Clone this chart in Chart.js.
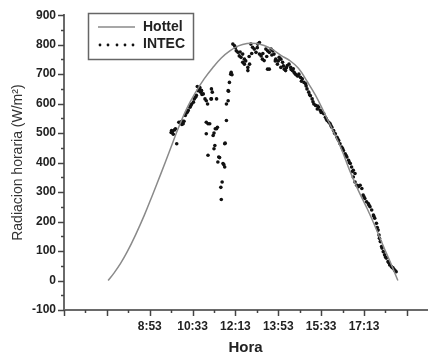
<!DOCTYPE html>
<html>
<head>
<meta charset="utf-8">
<script src="https://cdn.jsdelivr.net/npm/chart.js@4"></script>
<style>
  body { margin: 0; background: #fff; }
  canvas { display: block; }
</style>
</head>
<body>
<canvas id="radChart" width="431" height="358"></canvas>
<script>
// time in minutes after midnight
const hottelTimes = [436, 450, 465, 480, 500, 520, 540, 560, 580, 600, 620, 640, 660, 680, 700, 720, 740, 760, 780, 800,
  820, 840, 860, 880, 900, 920, 940, 960, 980, 1000, 1020, 1040, 1060, 1080, 1095, 1112];
const hottelValues = [0, 26, 58, 96, 155, 220, 292, 366, 442, 518, 585, 638, 684, 722, 755, 779, 796, 804, 804, 797,
  783, 763, 746, 720, 676, 628, 570, 510, 447, 372, 305, 245, 180, 110, 60, 0];

// INTEC measurements, main trail
const intecTimes = [583, 584, 588, 591, 596, 601, 604, 608, 609, 611, 619, 623, 627, 631, 635, 637, 640, 644, 646, 648,
  652, 654, 655, 658, 662, 665, 665, 665, 668, 669, 669, 673, 676, 677, 677, 679, 681, 683, 683, 685,
  686, 689, 689, 691, 692, 694, 696, 699, 700, 702, 704, 706, 708, 708, 709, 712, 712, 716, 716, 717,
  719, 722, 723, 725, 727, 731, 735, 739, 742, 746, 750, 750, 754, 754, 762, 762, 766, 769, 773, 777,
  781, 785, 789, 789, 793, 796, 800, 804, 808, 808, 812, 812, 816, 820, 823, 827, 831, 835, 839, 839,
  843, 847, 850, 854, 858, 862, 866, 870, 873, 877, 881, 885, 889, 893, 897, 900, 904, 908, 912, 916,
  920, 924, 927, 931, 935, 939, 943, 947, 951, 954, 958, 962, 966, 970, 974, 977, 981, 985, 989, 993,
  997, 1001, 1004, 1008, 1008, 1012, 1012, 1016, 1020, 1024, 1028, 1031, 1035, 1039, 1043, 1047, 1051, 1055, 1058, 1062,
  1066, 1068, 1069, 1071, 1074, 1078, 1081, 1085, 1089, 1093, 1097, 1101, 1104, 1108,
  // second pass, thickening the band
  586, 593, 606, 613, 616, 621, 629, 642, 650, 653,
  733, 744, 757, 765, 771, 784, 797, 806, 818, 826, 833, 845, 852, 863, 868, 879, 887, 898, 906, 914,
  925, 933, 945, 956, 964, 972, 983, 991, 999, 1006, 1018, 1033, 1045, 1056, 1064, 1075, 1083, 1091, 1099, 1106];
const intecValues = [502, 509, 496, 511, 464, 537, 534, 529, 541, 532, 568, 577, 588, 599, 605, 616, 622, 658, 644, 650,
  639, 644, 631, 633, 616, 610, 537, 498, 599, 532, 425, 532, 616, 616, 650, 639, 492, 500, 447, 458,
  515, 616, 515, 520, 402, 419, 417, 316, 275, 334, 397, 393, 385, 464, 466, 543, 599, 610, 644, 642,
  672, 700, 706, 698, 802, 796, 779, 774, 762, 757, 768, 740, 751, 734, 723, 712, 734, 802, 791, 785,
  774, 802, 807, 768, 762, 751, 746, 785, 779, 717, 774, 717, 785, 779, 768, 751, 734, 757, 751, 723,
  740, 717, 712, 729, 734, 723, 712, 706, 700, 695, 700, 689, 684, 672, 667, 650, 639, 627, 616, 599,
  594, 582, 588, 577, 571, 566, 554, 543, 537, 532, 520, 509, 498, 486, 475, 464, 453, 441, 430, 419,
  408, 397, 385, 374, 351, 363, 334, 323, 318, 323, 312, 290, 278, 267, 261, 250, 239, 222, 211, 194,
  171, 154, 143, 132, 115, 98, 87, 76, 64, 53, 47, 42, 36, 30,
  505, 515, 538, 540, 560, 572, 594, 628, 655, 645,
  790, 775, 745, 760, 770, 790, 770, 760, 765, 745, 745, 728, 722, 716, 718, 694, 676, 660, 630, 606,
  592, 570, 548, 525, 500, 480, 448, 425, 400, 370, 322, 284, 255, 218, 180, 110, 80, 60, 44, 33];

const xTickLabels = ['8:53', '10:33', '12:13', '13:53', '15:33', '17:13'];
const xMin = 333, xMax = 1180;
const yMin = -100, yMax = 900;

function toClock(m) {
  const h = Math.floor(m / 60);
  const mm = Math.round(m - h * 60);
  return h + ':' + (mm < 10 ? '0' : '') + mm;
}

const FONT = '"Liberation Sans", Arial, sans-serif';

// outward major/minor ticks like the original plot
const tickPlugin = {
  id: 'ticks',
  afterDraw(chart) {
    const ctx = chart.ctx;
    const xs = chart.scales.x, ys = chart.scales.y;
    ctx.save();
    ctx.strokeStyle = '#444';
    ctx.lineWidth = 1.5;
    for (let v = xMin; v <= xMax; v += 50) {
      const px = Math.round(xs.getPixelForValue(v)) + 0.5;
      const len = (v - xMin) % 100 === 0 ? 6 : 3;
      ctx.beginPath();
      ctx.moveTo(px, ys.bottom);
      ctx.lineTo(px, ys.bottom + len);
      ctx.stroke();
    }
    for (let v = yMin; v <= yMax; v += 50) {
      const py = Math.round(ys.getPixelForValue(v)) + 0.5;
      const len = v % 100 === 0 ? 6 : 3;
      ctx.beginPath();
      ctx.moveTo(xs.left, py);
      ctx.lineTo(xs.left - len, py);
      ctx.stroke();
    }
    ctx.restore();
  }
};

// boxed legend inside the plot, top left
const boxLegend = {
  id: 'boxLegend',
  afterDraw(chart) {
    const ctx = chart.ctx;
    const ds = chart.data.datasets;
    const x0 = 88.5, y0 = 13.5, w = 105, h = 46;
    ctx.save();
    ctx.fillStyle = '#fff';
    ctx.fillRect(x0, y0, w, h);
    ctx.strokeStyle = '#666';
    ctx.lineWidth = 1.5;
    ctx.strokeRect(x0, y0, w, h);
    // line sample
    ctx.strokeStyle = ds[0].borderColor;
    ctx.lineWidth = 1.5;
    ctx.beginPath();
    ctx.moveTo(98, 27);
    ctx.lineTo(135, 27);
    ctx.stroke();
    // dotted sample
    ctx.fillStyle = '#111';
    [100, 108, 117, 125, 133].forEach(function (px) {
      ctx.beginPath();
      ctx.arc(px, 45, 1.4, 0, Math.PI * 2);
      ctx.fill();
    });
    ctx.fillStyle = '#222';
    ctx.font = 'bold 14px ' + FONT;
    ctx.textBaseline = 'middle';
    ctx.fillText(ds[0].label, 143, 27);
    ctx.fillText(ds[1].label, 143, 44);
    ctx.restore();
  }
};

new Chart(document.getElementById('radChart'), {
  type: 'scatter',
  data: {
    datasets: [{
      label: 'Hottel',
      type: 'line',
      data: hottelTimes.map((t, i) => ({ x: t, y: hottelValues[i] })),
      borderColor: '#8a8a8a',
      borderWidth: 1.5,
      pointRadius: 0,
      tension: 0.4,
      fill: false
    }, {
      label: 'INTEC',
      data: intecTimes.map((t, i) => ({ x: t, y: intecValues[i] })),
      backgroundColor: '#111',
      borderColor: '#111',
      borderWidth: 0,
      pointRadius: 1.8
    }]
  },
  options: {
    responsive: false,
    animation: false,
    layout: { padding: { top: 14, right: 0, bottom: 0, left: 0 } },
    plugins: { legend: { display: false }, tooltip: { enabled: false } },
    scales: {
      x: {
        type: 'linear',
        min: xMin,
        max: xMax,
        afterBuildTicks: (s) => {
          const t = [];
          for (let v = xMin; v <= xMax; v += 50) t.push({ value: v });
          s.ticks = t;
        },
        afterFit: (s) => { s.height = 48; },
        grid: { drawOnChartArea: false, drawTicks: false },
        border: { display: true, color: '#6a6a6a', width: 2 },
        ticks: {
          padding: 9,
          maxRotation: 0,
          autoSkip: false,
          color: '#222',
          font: { family: FONT, size: 12, weight: 'bold' },
          callback: (v) => {
            const lbl = toClock(v);
            return xTickLabels.includes(lbl) ? lbl : '';
          }
        },
        title: {
          display: true,
          text: 'Hora',
          color: '#222',
          font: { family: FONT, size: 15, weight: 'bold' },
          padding: { top: 0, bottom: 1 }
        }
      },
      y: {
        min: yMin,
        max: yMax,
        ticks: {
          stepSize: 100,
          padding: 8,
          color: '#222',
          font: { family: FONT, size: 12, weight: 'bold' }
        },
        afterFit: (s) => { s.width = 64; },
        grid: { drawOnChartArea: false, drawTicks: false },
        border: { display: true, color: '#6a6a6a', width: 2 },
        title: {
          display: true,
          text: 'Radiacion horaria (W/m²)',
          color: '#333',
          font: { family: FONT, size: 14 },
          padding: { top: 10, bottom: 0 }
        }
      }
    }
  },
  plugins: [tickPlugin, boxLegend]
});
</script>
</body>
</html>
